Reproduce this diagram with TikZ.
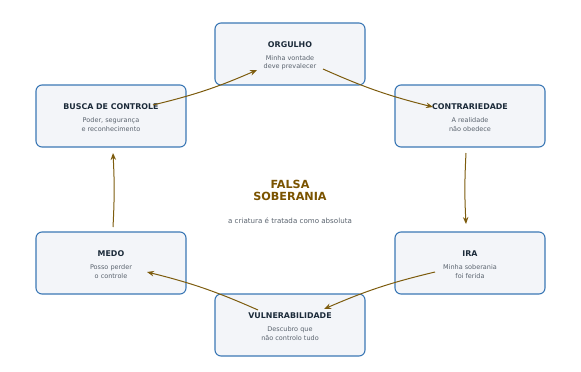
\documentclass[tikz,border=0pt]{standalone}
\usepackage{fontspec}
\setmainfont{DejaVu Sans}
\usetikzlibrary{calc,arrows.meta}
\definecolor{boxline}{HTML}{3B78B5}
\definecolor{boxfill}{HTML}{F3F5F9}
\definecolor{titlecol}{HTML}{1C2B3A}
\definecolor{subcol}{HTML}{5A636E}
\definecolor{flowcol}{HTML}{7D5C0E}
\definecolor{centercol}{HTML}{7A5300}
\tikzset{
  stagebox/.style={draw=boxline, fill=boxfill, line width=1.1pt, rounded corners=6pt,
    minimum width=150pt, minimum height=62pt, inner sep=0pt},
  stagetitle/.style={font=\bfseries\fontsize{7.9}{9}\selectfont, text=titlecol, inner sep=0pt},
  stagesub/.style={font=\fontsize{6.5}{8.2}\selectfont, text=subcol, align=center, inner sep=0pt},
  flow/.style={draw=flowcol, line width=1pt, -{Stealth[length=7pt,width=5.5pt]}},
}
\newcommand{\stagenode}[6]{%
  \node[stagebox] (#1) at (#2,#3) {};
  \node[stagetitle] (#1-t) at ($(#1)+(0,-9)$) {#4};
  \node[stagesub] (#1-s) at ($(#1)+(0,8.6)$) {#5\\#6};
}
\begin{document}
\begin{tikzpicture}[x=1pt,y=-1pt]
\useasboundingbox (0,0) rectangle (581,372);
\stagenode{orgulho}{290}{54}{ORGULHO}{Minha vontade}{deve prevalecer}
\stagenode{busca}{111}{116}{BUSCA DE CONTROLE}{Poder, segurança}{e reconhecimento}
\stagenode{contra}{470}{116}{CONTRARIEDADE}{A realidade}{não obedece}
\stagenode{medo}{111}{263}{MEDO}{Posso perder}{o controle}
\stagenode{ira}{470}{263}{IRA}{Minha soberania}{foi ferida}
\stagenode{vuln}{290}{325}{VULNERABILIDADE}{Descubro que}{não controlo tudo}

\node[font=\bfseries\fontsize{11.2}{12}\selectfont, text=centercol, align=center, inner sep=0pt] (centro) at (290,190) {FALSA\\SOBERANIA};
\node[font=\fontsize{7.1}{8}\selectfont, text=subcol, inner sep=0pt] (lema) at (290,221) {a criatura é tratada como absoluta};

\draw[flow] ($(busca)+(42,-11)$) to[bend right=5] ($(orgulho)+(-33,16)$);
\draw[flow] ($(orgulho)+(33,15)$) to[bend right=5] ($(contra)+(-37,-9)$);
\draw[flow] ($(contra)+(-4,37)$) to[bend right=3] ($(ira)+(-4,-39)$);
\draw[flow] ($(ira)+(-35,9)$) to[bend right=5] ($(vuln)+(34,-16)$);
\draw[flow] ($(vuln)+(-32,-15)$) to[bend right=5] ($(medo)+(36,9)$);
\draw[flow] ($(medo)+(2,-36)$) to[bend right=3] ($(busca)+(2,37)$);
\end{tikzpicture}
\end{document}
